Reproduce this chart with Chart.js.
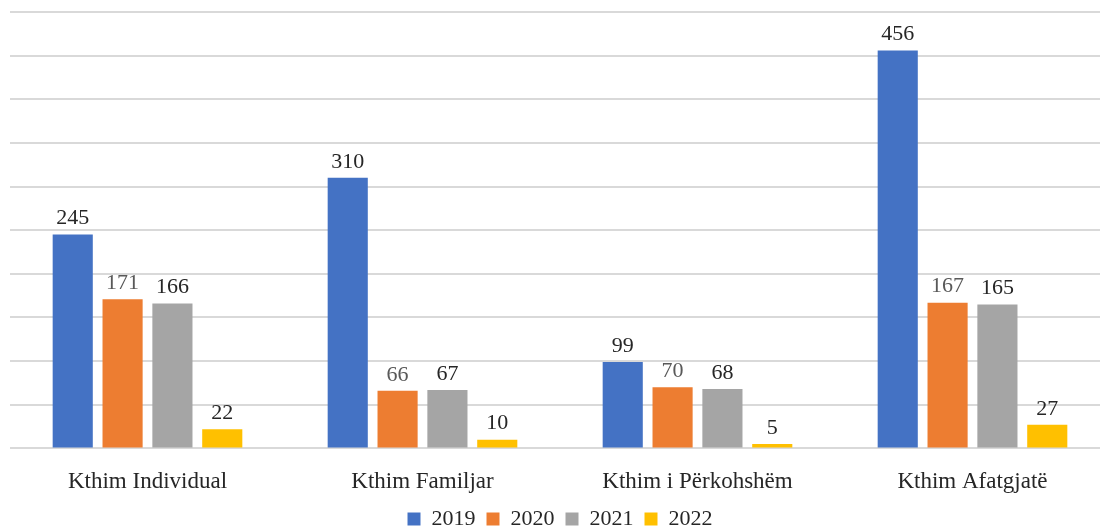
<!DOCTYPE html>
<html>
<head>
<meta charset="utf-8">
<script src="https://cdn.jsdelivr.net/npm/chart.js@4"></script>
<style>
  html, body { margin: 0; padding: 0; background: #fff; overflow: hidden; }
  #wrap { width: 1110px; height: 528px; }
</style>
</head>
<body>
<div id="wrap"><canvas id="chart"></canvas></div>
<script>
// data
const categories = ["Kthim Individual", "Kthim Familjar", "Kthim i Përkohshëm", "Kthim Afatgjatë"];
const years = ["2019", "2020", "2021", "2022"];
const values2019 = [245, 310, 99, 456];
const values2020 = [171, 66, 70, 167];
const values2021 = [166, 67, 68, 165];
const values2022 = [22, 10, 5, 27];
const colors = ["#4472c4", "#ed7d31", "#a5a5a5", "#ffc000"];
const labelColors = ["#262626", "#595959", "#262626", "#262626"];

const FONT = "'Liberation Serif', 'DejaVu Serif', serif";

// labels above bars
const barLabels = {
  id: "barLabels",
  afterDatasetsDraw(chart) {
    const ctx = chart.ctx;
    ctx.save();
    ctx.font = "22px " + FONT;
    ctx.textAlign = "center";
    ctx.textBaseline = "bottom";
    chart.data.datasets.forEach((ds, i) => {
      const meta = chart.getDatasetMeta(i);
      meta.data.forEach((bar, j) => {
        ctx.fillStyle = labelColors[i];
        ctx.fillText(ds.data[j], bar.x, bar.y - 5);
      });
    });
    ctx.restore();
  },
};

const ctx = document.getElementById("chart").getContext("2d");
const myChart = new Chart(ctx, {
  type: "bar",
  data: {
    labels: categories,
    datasets: [values2019, values2020, values2021, values2022].map((d, i) => ({
      label: years[i],
      data: d,
      backgroundColor: colors[i],
      borderWidth: 0,
      categoryPercentage: 0.725,
      barPercentage: 0.805,
    })),
  },
  options: {
    responsive: true,
    maintainAspectRatio: false,
    animation: false,
    layout: { padding: { left: 10, right: 0, top: 12, bottom: -12 } },
    plugins: {
      legend: {
        position: "bottom",
        labels: {
          boxWidth: 13,
          boxHeight: 13,
          padding: 0,
          color: "#262626",
          font: { family: FONT, size: 22 },
          // spacing between items without extra vertical padding
          generateLabels(chart) {
            const items = Chart.defaults.plugins.legend.labels.generateLabels(chart);
            items.forEach((it, i) => {
              if (i < items.length - 1) it.text += "  ";
            });
            return items;
          },
        },
      },
      tooltip: { enabled: false },
    },
    scales: {
      x: {
        grid: { display: false },
        border: { display: false },
        ticks: {
          color: "#262626",
          padding: 12,
          font: { family: FONT, size: 23 },
        },
      },
      y: {
        min: 0,
        max: 500,
        ticks: { display: false, stepSize: 50 },
        grid: { color: "#d9d9d9", lineWidth: 2, drawTicks: false },
        border: { display: false },
      },
    },
  },
  plugins: [barLabels],
});
</script>
</body>
</html>
